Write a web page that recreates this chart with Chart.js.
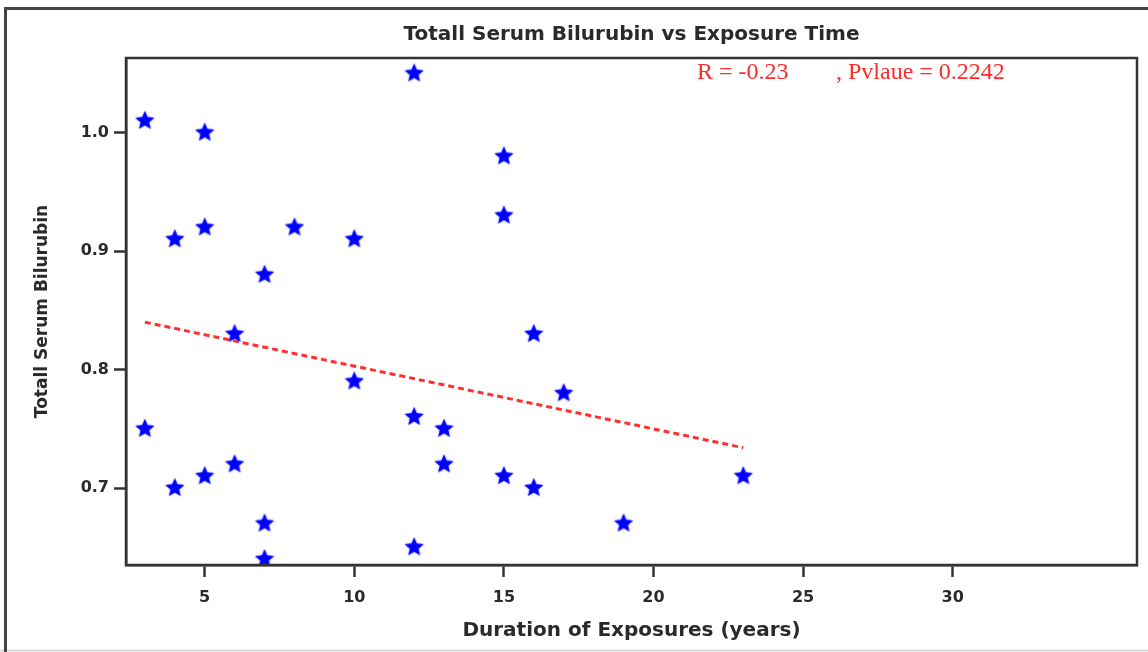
<!DOCTYPE html>
<html>
<head>
<meta charset="utf-8">
<script src="https://cdn.jsdelivr.net/npm/chart.js@4/dist/chart.umd.min.js"></script>
<style>
  html, body { margin: 0; padding: 0; background: #fff; }
  #wrap { width: 1148px; height: 652px; }
</style>
</head>
<body>
<div id="wrap"><canvas id="chart" width="1148" height="652"></canvas></div>
<script>
// exposure duration (years) and bilirubin readings
const expYears = [3, 5, 12, 15, 4, 5, 8, 10, 15, 7, 6, 16, 10, 17, 3, 12, 13, 6, 13, 4, 5, 15, 16, 23, 7, 19, 12, 7];
const bilirubin = [1.01, 1.00, 1.05, 0.98, 0.91, 0.92, 0.92, 0.91, 0.93, 0.88, 0.83, 0.83, 0.79, 0.78, 0.75, 0.76, 0.75, 0.72, 0.72, 0.70, 0.71, 0.71, 0.70, 0.71, 0.67, 0.67, 0.65, 0.64];

// fitted line end points
const fitX = [3, 23];
const fitY = [0.840, 0.734];

const xTicks = [5, 10, 15, 20, 25, 30];
const yTicks = [0.7, 0.8, 0.9, 1.0];

const statText = ['R = -0.23', ', Pvlaue = 0.2242'];

const FONT = '"DejaVu Sans", Arial, sans-serif';
const INK = '#2a2a2a';

// filled five point star used as marker
function makeStar(r, color) {
    const c = document.createElement('canvas');
    const s = Math.ceil(r * 2 + 4);
    c.width = s; c.height = s;
    const g = c.getContext('2d');
    const cx = s / 2, cy = s / 2, ri = r * 0.45;
    g.beginPath();
    for (let i = 0; i < 10; i++) {
        const rad = i % 2 === 0 ? r : ri;
        const a = -Math.PI / 2 + i * Math.PI / 5;
        const px = cx + rad * Math.cos(a), py = cy + rad * Math.sin(a);
        if (i === 0) g.moveTo(px, py); else g.lineTo(px, py);
    }
    g.closePath();
    g.shadowColor = 'rgba(60,60,255,0.6)';
    g.shadowBlur = 2;
    g.fillStyle = color;
    g.fill();
    return c;
}
const star = makeStar(10, '#0000ff');

const points = expYears.map((x, i) => ({ x: x, y: bilirubin[i] }));
const fitLine = fitX.map((x, i) => ({ x: x, y: fitY[i] }));

// page frame, plot box and the R / p-value note
const framePlugin = {
    id: 'frame',
    beforeDraw(chart) {
        const ctx = chart.ctx;
        ctx.save();
        ctx.fillStyle = '#fff';
        ctx.fillRect(0, 0, chart.width, chart.height);
        ctx.strokeStyle = '#cfcfcf';
        ctx.lineWidth = 1.5;
        ctx.beginPath();
        ctx.moveTo(0, 650.5); ctx.lineTo(chart.width, 650.5);
        ctx.stroke();
        ctx.strokeStyle = '#444';
        ctx.lineWidth = 3;
        ctx.beginPath();
        ctx.moveTo(5.5, chart.height); ctx.lineTo(5.5, 8.5); ctx.lineTo(chart.width, 8.5);
        ctx.stroke();
        ctx.restore();
    },
    afterDraw(chart) {
        const ctx = chart.ctx;
        const a = chart.chartArea;
        ctx.save();
        ctx.strokeStyle = '#333';
        ctx.lineWidth = 2.5;
        ctx.strokeRect(a.left, a.top, a.right - a.left, a.bottom - a.top);

        const xs = chart.scales.x;
        ctx.fillStyle = '#ff2a2a';
        ctx.font = '24px "Liberation Serif", "Times New Roman", serif';
        ctx.textBaseline = 'middle';
        ctx.fillText(statText[0], xs.getPixelForValue(21.45), a.top + 15);
        ctx.fillText(statText[1], xs.getPixelForValue(26.1), a.top + 15);
        ctx.restore();
    }
};

new Chart(document.getElementById('chart'), {
    type: 'scatter',
    data: {
        datasets: [
            {
                label: 'fit',
                type: 'line',
                data: fitLine,
                borderColor: '#ff3030',
                borderWidth: 3,
                borderDash: [6, 4],
                pointRadius: 0,
                fill: false,
                order: 2
            },
            {
                label: 'Totall Serum Bilurubin',
                data: points,
                pointStyle: star,
                pointRadius: 10,
                order: 1
            }
        ]
    },
    options: {
        responsive: false,
        animation: false,
        layout: { padding: { top: 0, right: 8, bottom: 0, left: 0 } },
        plugins: {
            legend: { display: false },
            tooltip: { enabled: false },
            title: {
                display: true,
                fullSize: false,
                text: 'Totall Serum Bilurubin vs Exposure Time',
                color: INK,
                font: { family: FONT, size: 20, weight: 'bold', lineHeight: 1.2 },
                padding: { top: 23, bottom: 11 }
            }
        },
        scales: {
            x: {
                type: 'linear',
                min: 2.37,
                max: 36.16,
                afterFit(scale) {
                    scale.height = 87;
                    scale.paddingRight = 0;
                    scale.paddingLeft = 0;
                },
                afterBuildTicks(scale) { scale.ticks = xTicks.map(v => ({ value: v })); },
                grid: { display: true, drawOnChartArea: false, drawTicks: true, tickLength: 12, tickColor: '#333', tickWidth: 2.5 },
                border: { display: true, color: '#333', width: 2.5 },
                ticks: { color: INK, font: { family: FONT, size: 16, weight: 'bold' }, padding: 11, maxRotation: 0 },
                title: {
                    display: true,
                    text: 'Duration of Exposures (years)',
                    color: INK,
                    font: { family: FONT, size: 20, weight: 'bold', lineHeight: 1.2 },
                    padding: { top: 0, bottom: 9 }
                }
            },
            y: {
                min: 0.635,
                max: 1.063,
                afterFit(scale) { scale.width = 126; },
                afterBuildTicks(scale) { scale.ticks = yTicks.map(v => ({ value: v })); },
                grid: { display: true, drawOnChartArea: false, drawTicks: true, tickLength: 12, tickColor: '#333', tickWidth: 2.5 },
                border: { display: true, color: '#333', width: 2.5 },
                ticks: {
                    color: INK,
                    font: { family: FONT, size: 16, weight: 'bold' },
                    padding: 5,
                    callback: v => v.toFixed(1)
                },
                title: {
                    display: true,
                    text: 'Totall Serum Bilurubin',
                    color: INK,
                    font: { family: FONT, size: 17, weight: 'bold', lineHeight: 1.2 },
                    padding: { top: 32, bottom: 0 }
                }
            }
        }
    },
    plugins: [framePlugin]
});
</script>
</body>
</html>
